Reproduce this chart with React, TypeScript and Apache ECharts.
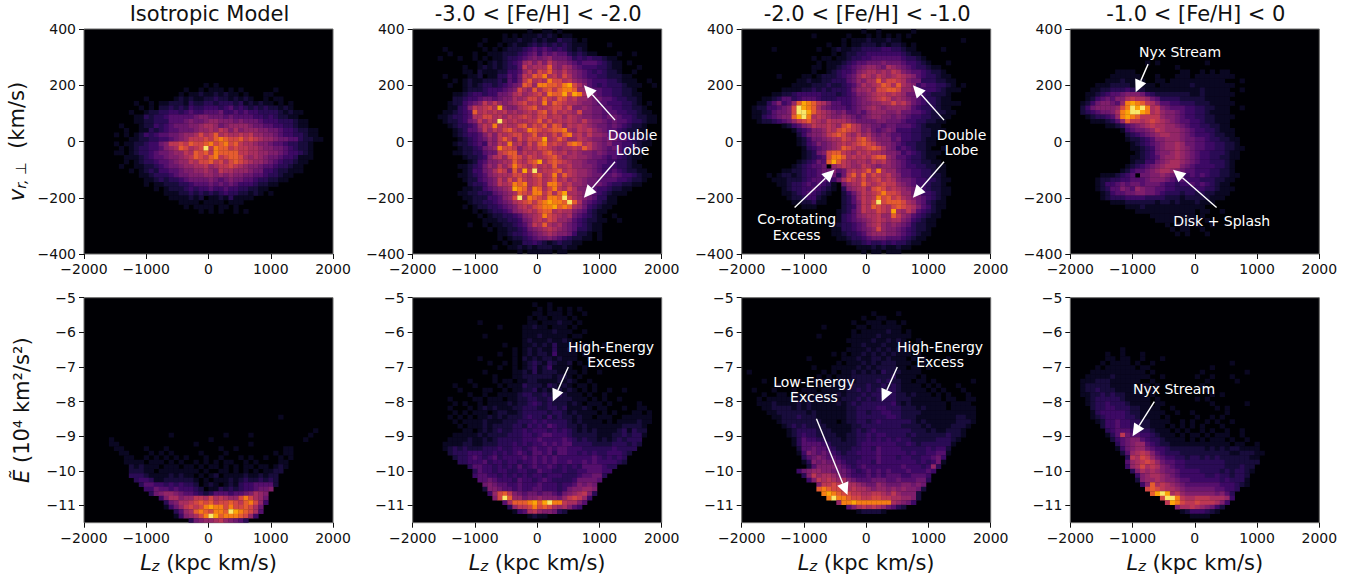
import React, { useEffect, useRef } from "react";
import * as echarts from "echarts";

const binCount = 50;
const xTicks = [-2000, -1000, 0, 1000, 2000];
const vTicks = [-400, -200, 0, 200, 400];
const eTicks = [-11, -10, -9, -8, -7, -6, -5];
const titles = ["Isotropic Model", "-3.0 < [Fe/H] < -2.0", "-2.0 < [Fe/H] < -1.0", "-1.0 < [Fe/H] < 0"];

const isoVelocityFirst = 12;
const isoVelocity = [
"0000000000 0000000000 0000101000 0000000000 0000000000",
"0000000000 0000000000 1001011101 0100000010 0000000000",
"0000000000 0000000001 0112112121 1010001100 0000000000",
"0000000000 0010000012 1211223221 2121001011 0000000000",
"0000000000 1001011222 1322332333 2312121101 0100000000",
"0000000000 0101022323 2433444345 3432323221 2100000000",
"0000000001 0012233443 4544555644 5454433332 1211000000",
"0000000000 1132334555 5567766656 5555443432 2110000000",
"0000000000 1122333555 6766788777 6766654443 3321100000",
"0000000100 0122434566 6778998678 8887665544 3321100000",
"0000000010 0113234556 6678898a97 9788877665 4432211000",
"0000001010 1243455667 889b9ac9a9 9a9a887765 4433211000",
"0000000001 1223344567 8aaabacdcb bcaba98876 6553221100",
"0000001011 2234467aab acbbcdbcdb ca99877655 4332210000",
"0000000101 233445789c b9abfadcca baa9987766 5432210000",
"0000001101 2334566788 a9cbcadccc caa9988776 5443210000",
"0000000011 1234556778 9acbacdabc cb98987665 4431110000",
"0000000010 1233455678 8a9bbcab9b cba9887654 3321100000",
"0000000100 1122345667 8899a89aab a987765543 3211000000",
"0000000001 0123244556 7788987a99 8887664432 2111000000",
"0000000000 0112333456 6777887878 7766554332 1100000000",
"0000000000 0011232334 5666676567 6655433221 1000000000",
"0000000000 0010112223 3455565656 5444322110 0000000000",
"0000000000 0000101222 3434454454 4332211000 0000000000",
"0000000000 0000001112 2323232343 3221210100 0000000000",
"0000000000 0000000111 1212011213 1111000000 0000000000",
"0000000000 0000000001 1110111101 1100000000 0000000000",
"0000000000 0000000000 1011110110 1000000000 0000000000",
"0000000000 0000000000 0001010100 1010000000 0000000000",
];

const poorVelocityFirst = 0;
const poorVelocity = [
"0000000000 0000000000 0001001101 0000000000 0000000000",
"0000000000 0000000010 1011121210 1100000000 0000000000",
"0000000000 0000100011 1211212113 2210100000 0000000000",
"0000000000 0001000101 2112323232 3211100001 0000000000",
"0000001000 0000101012 2234545434 3212100000 0000000000",
"0000000100 0010011122 2345646565 5323211000 0100100000",
"0000010001 0010101123 3456767866 6534343321 1000000000",
"0000000000 0001012123 4589797a87 7654555432 1101000000",
"0000000000 1001212123 35a8999c87 9865444332 1100010000",
"0000000000 1102111224 458a8bac98 a876543432 2100100000",
"0000001000 0112011335 46a9cbd9a8 b976544332 2211000000",
"0000000010 1211222325 46ac9a9dbb 9a87654443 3211100100",
"0000000100 1212332345 67cb8ddccb deb9754343 3321110010",
"0000000000 1222344456 7b98c9bcac ddc8865544 3322100000",
"0000000011 2344344667 9a89ab9dcc ebed986544 3322110000",
"0000000022 3445665677 989bb9ca9c b9a8876655 4332210000",
"0000000122 4567a8a878 9ab9a9d9cb a998776554 4433210100",
"0000000113 47a9ab9e87 79abc99abb 9b77876655 4433221000",
"0000001123 45c9a9a9a8 989a9bc9b9 a98b776655 5443321100",
"0000011233 4599bb9a8a 9aba9bb9aa 8a98776656 6544322110",
"0000001223 467a8a9fa9 a99aac9b9a 9a98a87765 6554332110",
"0000000123 3458a9d9a9 9bc9bac9cb 8a9a987665 6543221000",
"0000000012 3557a8a9bc a9adcbabcc d98a9a8765 5432211000",
"0000000012 3445797a9a bb9ac9a9b9 cd9a8a8876 6543221100",
"0000000001 2345687aca 8b9bbbe9ac a88a987767 6554322100",
"0000000012 2345487a9d 9a8b9cdaba 9cdc9a8767 5544321100",
"0000000001 2234678dbb a79a9bba98 99a9ca8765 6543321000",
"0000000011 2233566abc c8a9a9bca9 a898776765 5532110000",
"0000000000 1223479a8b cb9ba9abca 8998876654 5432110000",
"0000000000 0124577899 ca9bce9bcb a988766554 4332100000",
"0000000001 1234687a8a dba9b9a9c9 9a88776544 4332110000",
"0000000000 1244679ba7 c9eaf9aabc 9a98876544 5432211000",
"0000000001 1234578999 bba9bc9ad9 ca98876655 6544321100",
"0000000000 1224567a8b 9ca9ab9ac9 a898766555 5443221000",
"0000000000 0233467a9a dcd9ab9ddb 9a88766654 3322110000",
"0000000000 1122456789 edc9dc9bda 9b97765443 2211000000",
"0000000001 1223335678 9cbaddac9c e998765432 1110000000",
"0000000000 1122244578 bf9dcbaddc fb98765331 1000000000",
"0000000000 0122334567 9abcacdedd cfc9654321 1000000000",
"0000000000 1012233456 79a9bcddec dc98643211 0000000000",
"0000000000 0010123345 789a9bcc9a 9976532110 0000000000",
"0000000000 0001012233 45789adba9 8965432100 1000000000",
"0000000000 0000111223 34679a9ba8 8754322110 0100000000",
"0000000000 0100101122 3457a9c989 7654321100 0000000000",
"0000000000 0000010112 2346789a98 7653321100 0000000000",
"0000000000 0000000112 3345678987 7642210100 0000000000",
"0000000000 0000000101 2234566765 4322110100 0000000000",
"0000000000 0000000010 1133432123 2211000000 0000000000",
"0000000000 0000001001 1212122211 2110000000 0000000000",
"0000000000 0000000000 0101111101 1000000000 0000000000",
];

const midVelocityFirst = 0;
const midVelocity = [
"0000000000 0000000000 0000100100 0000100000 0000000000",
"0000000000 0000100000 0100010101 0101000000 0000000000",
"0000000000 0000000000 1011121112 1100000000 0000100000",
"0000000000 0000000100 1011222121 2210100000 0000000000",
"0000001000 0000010012 1122333344 3321100000 1000000000",
"0000000000 0000000010 1223344444 4432110000 0000000000",
"0000000000 0000101101 1233445555 5543321000 0000000000",
"0000000000 0000010111 2345566676 6654432100 0100000000",
"0000000000 0000110112 3456788769 8765433211 0000000000",
"0000000000 0000100123 4457899898 a976554322 1000000000",
"0000000100 0011012223 4568a98a98 9a98754332 1100000000",
"0000000000 0112112233 3568799c9b ba97663332 2110000000",
"0000000000 1111222322 3457989acb 9c98745443 3210100000",
"0000000011 1122323233 3468898bbc cb88754443 2111000000",
"0000001122 3444443332 3457789aa9 a986654322 2100000000",
"0000112355 3455543334 4456789aba 8987654332 1100000000",
"0001135745 8cedca9755 4456778899 b9a8654332 1111000000",
"0012244567 bfedc97655 5456789878 8887543332 1100000000",
"0011235667 bffeca9876 7556578887 7866554322 2110000000",
"0011345677 cefd9a9877 8765678877 6765443322 1100000000",
"0001223456 8abca98a99 9876666776 6654433221 1000000000",
"0000000012 4578a99a98 bca9776656 6555432111 0000000000",
"0000000000 1345778a9b cba9786567 6444332211 1000000000",
"0000000000 0246778abc b98a897676 5544332211 0000000000",
"0000000000 0124667899 ba9bca8777 5644332110 0000000000",
"0000000000 0124576789 a9abcba877 6543322110 0000000000",
"0000000000 0013456789 cba9abcb97 6454322100 1000000000",
"0000000000 0012367bcc a98a9a9987 7645432111 0000000000",
"0000000000 0012345bdd c9a9a9bcc8 7554332110 0000000000",
"0000000000 0123465cec a98998a9a8 7654332211 0000000000",
"0000000000 1234556089 a988a98788 7654433221 1000000000",
"0000000011 2234456675 69a9ac9d98 8655443321 1000000000",
"0000010122 1234455663 6ac9c9ba9a 8755443322 1000000000",
"0000001112 2234555446 9ba9b9ab9a 9766544332 1100000000",
"0000000112 3345454310 6899ca9aba a876544322 1000000000",
"0000000012 3344543210 3789a8bcb9 a987654322 1100000000",
"0000000011 2345432100 2468a9abdb ba88654432 1100000000",
"0000000001 2234421000 2358a9adbc ab98765432 1000000000",
"0000000000 1122311000 2357a9bfbc ccb9865321 1000000000",
"0000000000 0011100000 2347a9cba9 bcba975421 1000000000",
"0000000000 0000000001 2357a99ba9 e98a854321 0000000000",
"0000000000 0000000001 3457899a88 ca87543211 0000000000",
"0000000000 0000000001 3456789a98 9976432110 0000000000",
"0000000000 0000000012 3345689a87 8765322110 0000000000",
"0000000000 0000000011 3345678b87 7654322100 0000000000",
"0000000000 0000000011 2334578887 7654321100 0000000000",
"0000000000 0000000001 1233456665 5543211000 0000000000",
"0000000000 0000000000 0122343343 4332110000 0000000000",
"0000000000 0000000000 0001112121 1211000000 0000000000",
"0000000000 0000000000 0000101101 1100000000 0000000000",
];

const richVelocityFirst = 7;
const richVelocity = [
"0000000000 0000010100 0000000100 0000000000 0000000000",
"0000000000 0000000000 0100000000 0000000000 0000000000",
"0000000001 1110000000 0011001010 1100000000 0000000000",
"0000000011 1111000100 0111011111 1110000000 0000000000",
"0000000111 2111100110 1111111111 1000100000 0000000000",
"0000011122 2211111011 1111211111 1110000000 0000000000",
"0000112233 3432211111 1111112111 1100100000 0000000000",
"0001123455 6777643222 2222112111 1110000000 0000000000",
"0001245657 79a9986533 3322222111 1100000000 0000000000",
"0012467765 8dedca9755 4433322211 1110000000 0000000000",
"0024677778 bdfefd9a76 5554433221 1100100000 0000000000",
"0023456679 deffed9a87 7654433211 1100000000 0000000000",
"0001233458 dedcaaaa87 7654433221 1110000000 0000000000",
"0000111235 8caa9aba98 7655443221 1100000000 0000000000",
"0000000112 356789a998 8765443322 1100000000 0000000000",
"0000000000 1456678a98 8876544332 1110000000 0000000000",
"0000000000 0234567899 8876544432 2110000000 0000000000",
"0000000000 0122345778 8876655433 2211000000 0000000000",
"0000000000 0012345678 8986655443 3221000000 0000000000",
"0000000000 0011234678 8987655443 3221100000 0000000000",
"0000000000 0001234677 8987654433 3211000000 0000000000",
"0000000000 0011234578 8987654433 2211000000 0000000000",
"0000000000 0012244678 9987654433 3210000000 0000000000",
"0000000000 0123456789 9976544443 3210000000 0000000000",
"0000000000 1245567899 8765544433 2210000000 0000000000",
"0000001112 3450667787 6544545433 2211000000 0000000000",
"0000012233 4455567776 5454443332 2110000000 0000000000",
"0000012445 6566566654 4344545432 1100000000 0000000000",
"0000012355 7658766554 4333344332 1110000000 0000000000",
"0000001245 5667766543 3323323221 1100000000 0000000000",
"0000001233 3444433332 2212222211 1000000000 0000000000",
"0000000011 1222222122 1211121110 0000000000 0000000000",
"0000000000 0111211111 1111111000 0000000000 0000000000",
"0000000000 0001111111 1111101100 1000000000 0000000000",
"0000000000 0000001111 1111101000 0000000000 0000000000",
"0000000000 0000000111 1011110100 0000000000 0000000000",
"0000000000 0000000001 0111010010 0000000000 0000000000",
"0000000000 0000000000 1011001000 0000000000 0000000000",
"0000000000 0000000000 0101000100 0000000000 0000000000",
];

const isoEnergyFirst = 26;
const isoEnergy = [
"0000000000 0000000000 0000000000 0000000001 0000000000",
"",
"",
"0000000000 0000000000 0000000000 0000000000 0000001000",
"0000000000 0000000100 0000000010 0001000000 0000010000",
"0000010000 0000000000 0000010000 0000000000 0000100000",
"0000011000 0000000000 0010000000 0001000000 0000000000",
"0000001100 0010001000 0000000100 1000000000 1100000000",
"0000000110 0001010100 0001000010 0000000010 1100000000",
"0000000011 0010101010 1000100100 0101001001 0100000000",
"0000000011 1101110101 0010101011 0010100001 1000000000",
"0000000002 1211101110 1101011010 1011011012 1000000000",
"0000000002 2211011111 1110100110 1010101122 0000000000",
"0000000003 3321111212 1101012011 1121121220 0000000000",
"0000000000 3443112222 2210101112 1232232320 0000000000",
"0000000000 0355443434 3320121012 1344555520 0000000000",
"0000000000 0044655454 4432011323 2344566700 0000000000",
"0000000000 0003678876 5543235554 5567987000 0000000000",
"0000000000 0000047997 88aa9b9a98 8bdb986000 0000000000",
"0000000000 0000003679 9abcbcabbc bacdb84000 0000000000",
"0000000000 0000001468 ababdeddbd bbcb960000 0000000000",
"0000000000 0000000035 89cdcbddcf edcb950000 0000000000",
"0000000000 0000000014 789bdfecdd dcb8400000 0000000000",
"0000000000 0000000000 0367889a87 6530000000 0000000000",
];

const poorEnergyFirst = 1;
const poorEnergy = [
"0000000000 0000000000 0000100100 0000000000 0000000000",
"0000000000 0000000000 0000010101 0101000000 0000000000",
"0000000000 0000000000 0000110111 0100100000 0000000000",
"0000000000 0000000000 0001011011 1010000000 0000000000",
"0000000000 0001000000 0001101112 1101000000 0000000000",
"0000000000 0000000100 0011211011 1010000000 0000000000",
"0000000000 0000000000 0011111121 1100100000 0000000000",
"0000000000 0000100000 0011121111 1011000000 0000000000",
"0000000000 0000000000 0012111211 2100000000 0000000000",
"0000000000 0000000010 0011212131 1110100010 0000000000",
"0000000000 0000000000 1012121131 1211000000 0000000000",
"0000000000 0000000100 1012122141 1110100000 0000000000",
"0000000000 0001000000 1021212212 1110010000 0000000000",
"0000000000 0000010010 1012321321 1201000000 0000000000",
"0000000000 0000000100 1012312411 1100100000 0000000000",
"0000000000 0000100000 1121312221 1110100100 0000000000",
"0000000000 0000001000 1122222212 2101000000 0000000000",
"0000000000 0100001011 0112211112 1210010000 0000000000",
"0000000010 0010000101 1132221321 2101101000 0000000000",
"0000000001 0000110010 1122312122 1210101001 0010000000",
"0000000000 0100100111 1233223213 2111010010 0000000000",
"0000000100 0011011101 1223322322 2211101010 0100000000",
"0000000010 1001011112 1223432322 2121011101 0000010000",
"0000000100 0101212111 2233322332 3111210110 0010011000",
"0000000010 1011101221 1233333233 2121111010 1000110100",
"0000000101 0101121212 2234332423 2212110111 0011111100",
"0000000010 1111211122 2333434333 3212111101 0111121100",
"0000000001 0111212222 3324343543 3221211111 1122221000",
"0000000000 1101212322 3343444343 4321212111 1231322000",
"0000000011 1112122223 3344345544 4322222111 2232331000",
"0000000111 1211212333 3344454444 5432322121 2323330000",
"0000001111 2211222333 4343445454 5533332222 3332320000",
"0000001232 3222333433 4434544545 5444333333 4333300000",
"0000000233 3444334343 4543554535 5443434334 4432000000",
"0000000023 3454345344 4454545454 4444445434 3430000000",
"0000000003 3444534434 4344545454 4544545444 4320000000",
"0000000000 0355443434 3534544543 4343555543 3000000000",
"0000000000 0035443443 3443354433 4334455544 0000000000",
"0000000000 0045544343 4343443444 3334556630 0000000000",
"0000000000 0005565444 3544345433 3346666500 0000000000",
"0000000000 0000676554 4544454443 4457676000 0000000000",
"0000000000 0000277655 4544554443 4677887000 0000000000",
"0000000000 0000048bca 7656656654 6789a73000 0000000000",
"0000000000 0000007bfc 8867787776 8aba840000 0000000000",
"0000000000 0000000059 cccdecefdd a997500000 0000000000",
"0000000000 0000000003 8aabdbcb98 9754000000 0000000000",
"0000000000 0000000000 1459a87763 2000000000 0000000000",
"0000000000 0000000000 0001211000 0000000000 0000000000",
];

const midEnergyFirst = 3;
const midEnergy = [
"0000000000 0000000000 0000001000 0100000000 0000000000",
"0000000000 0000000000 0000100110 0000000000 0000000000",
"0000000000 0000000000 0010011101 1010000000 0000000000",
"0000000000 0000001000 0001101111 1100000000 0000000000",
"0000000000 0000000000 0010111112 1101000000 0000000000",
"0000000000 0000010000 0011111211 1111000000 0000000000",
"0000000000 0000000000 0111112112 1210010000 0000000000",
"0000000000 0000000000 0011211121 1111000000 0000000000",
"0000000000 0000000000 0111121212 1211000000 0000000000",
"0000000000 0000000010 1011212121 2111010000 0000000000",
"0000000000 0001000000 1112112212 1110101000 0100000000",
"0000000000 0000000001 0111212122 2111001000 0000000000",
"0000000000 0000100011 1112121222 2110110100 0000000000",
"0100000000 0000001010 1121212132 2211110000 0000000000",
"0000000000 0000010101 1122222222 3111101000 0000000000",
"0000100000 0100101111 1212222323 2211011010 0000001000",
"0000000100 0000010111 1122232232 3211110101 0001000000",
"0010001000 1011101111 1223232323 3211111010 1000100000",
"0000100110 1101111112 1222323333 3221211101 0100010000",
"0001011111 1111121111 2223232333 3222111111 0110011000",
"0001112111 1212111112 1232333333 4212111111 1011110000",
"0000112222 1212111111 1223333443 3322212111 1011111000",
"0000011222 2221211111 1223323344 3322221111 1111111000",
"0000001122 2322211111 1223333334 4322211111 1112211000",
"0000000122 2222221110 1223323433 3333212111 1112221000",
"0000000012 3232222111 1122333333 3322221211 1122210000",
"0000000001 2333322211 1123234333 3333222121 1222100000",
"0000000001 2343322221 1223343443 3332322222 2322100000",
"0000000000 1354433222 1223343434 3433222223 3321000000",
"0000000000 1355554322 2223444444 4334323333 3310000000",
"0000000000 0255655432 2233443544 4433333434 4200000000",
"0000000000 0147656543 2334444544 4443433445 5100000000",
"0000000000 0035676554 3333444544 4344334456 4000000000",
"0000000000 0013767665 4334443544 4444434346 1000000000",
"0000000000 0002577776 5434544444 4454443483 0000000000",
"0000000000 0467887766 6543454545 4445444540 0000000000",
"0000000000 0037a89987 6544454545 5544555400 0000000000",
"0000000000 00047a9a98 9765556665 5655566300 0000000000",
"0000000000 000007aaba a998766876 6677676000 0000000000",
"0000000000 00000cdcbb a9a9987887 8787762000 0000000000",
"0000000000 000000dedc bbaa99aa98 a877720000 0000000000",
"0000000000 0000000dfd dcbbaabbaa 9988720000 0000000000",
"0000000000 0000000008 ddeddddddd 9876400000 0000000000",
"0000000000 0000000000 0579a9a986 5320000000 0000000000",
"0000000000 0000000000 0001222210 0000000000 0000000000",
];

const richEnergyFirst = 11;
const richEnergy = [
"0000000000 1000000000 0000000000 0000000000 0000000000",
"0000000100 1000100000 0000000000 0000000000 0000000000",
"0000000110 1100100010 0000000000 0000000000 0000000000",
"0000001011 1101001000 0000000000 0010000000 0000000000",
"0000010111 1110110000 0000000010 0000000000 0000000000",
"0000111111 1111101000 0000001000 0000010000 0000000000",
"0001111121 1111110010 0000010010 0010000000 0000000000",
"0011122211 1111001000 0000000100 0001000000 0000000000",
"0012222211 1110110100 0000001000 0000000000 0000000000",
"0012232221 1111011000 0000000100 0000000000 0000000000",
"0011223232 2111101000 0000000010 1000000000 0000000000",
"0001233333 2111110100 0000010100 0000000000 0000000000",
"0001233433 3211110110 0000000010 0000010000 0000000000",
"0000233443 3322111100 1000000001 0100000000 0000000000",
"0000134444 4322111110 0100100000 0100000000 0000000000",
"0000123444 4332111101 0000010010 1000000000 0000000000",
"0000012445 4433221111 0010100101 0010000000 0000000000",
"0000002445 4433221110 1010101000 1000000000 0000000000",
"0000000345 5544332111 0101001010 0100100000 0000000000",
"0000000135 a655443211 1010110101 1100100000 0000000000",
"0000000024 5677543321 1110101011 1010010000 0000000000",
"0000000003 5678854322 1111111111 1101100100 0000000000",
"0000000001 4678865443 2222222121 2122111100 0000000000",
"0000000000 2589a97543 3322222222 2211222110 0000000000",
"0000000000 03a9ba8654 4332332323 2222221100 0000000000",
"0000000000 0589aba865 5443333333 3222222200 0000000000",
"0000000000 0489b9a976 5443333333 3222322000 0000000000",
"0000000000 0037989876 6544443333 2323321000 0000000000",
"0000000000 0004789987 6544444334 3323320000 0000000000",
"0000000000 0002788987 7655444444 3433310000 0000000000",
"0000000000 000047c9a9 8765555555 4443210000 0000000000",
"0000000000 00000bcba9 9876666665 5443000000 0000000000",
"0000000000 000000cefe 9a87777776 7530000000 0000000000",
"0000000000 00000000bf fda99aaa99 9840000000 0000000000",
"0000000000 000000000a edbaabaaa9 7400000000 0000000000",
"0000000000 0000000000 0799a98764 2000000000 0000000000",
"0000000000 0000000000 0012444321 0000000000 0000000000",
"0000000000 0000000000 0000111100 0000000000 0000000000",
];

const INFERNO = ["#000004","#0a0722","#180c3c","#2a0b55","#3d0965","#550f6d","#6b176e","#7f1e6c","#932667","#a82e5f","#bc3754","#d24644","#e55c30","#f57d15","#fca50a","#f9e76a"];
const BG = INFERNO[0];
const FONT = "DejaVu Sans";
const INK = "#111";

function cellsFrom(rows: string[], first: number, yMin: number, yMax: number) {
  const out: number[][] = [];
  const dx = 4000 / binCount;
  const dy = (yMax - yMin) / binCount;
  rows.forEach((raw, r) => {
    const row = raw.replace(/ /g, "");
    for (let c = 0; c < Math.min(row.length, binCount); c++) {
      const lvl = parseInt(row[c], 16);
      if (lvl > 0) out.push([-2000 + dx * (c + 0.5), yMax - dy * (first + r + 0.5), lvl]);
    }
  });
  return out;
}

const panelCells = [
  cellsFrom(isoVelocity, isoVelocityFirst, -400, 400),
  cellsFrom(poorVelocity, poorVelocityFirst, -400, 400),
  cellsFrom(midVelocity, midVelocityFirst, -400, 400),
  cellsFrom(richVelocity, richVelocityFirst, -400, 400),
  cellsFrom(isoEnergy, isoEnergyFirst, -11.5, -5),
  cellsFrom(poorEnergy, poorEnergyFirst, -11.5, -5),
  cellsFrom(midEnergy, midEnergyFirst, -11.5, -5),
  cellsFrom(richEnergy, richEnergyFirst, -11.5, -5),
];

type Arrow = [number, number, number, number];
type Note = [string, number, number];
const doubleLobeArrows: Arrow[] = [[1250, 76, 750, 200], [1250, -72, 750, -200]];
const doubleLobeNotes: Note[] = [["Double", 1530, 22], ["Lobe", 1530, -31]];
const highEnergyArrows: Arrow[] = [[500, -7, 250, -8]];
const highEnergyNotes: Note[] = [["High-Energy", 1186, -6.43], ["Excess", 1186, -6.87]];
const panelArrows: Arrow[][] = [
  [],
  doubleLobeArrows,
  [...doubleLobeArrows, [-1150, -235, -510, -100]],
  [[-750, 275, -950, 175], [350, -235, -350, -100]],
  [],
  highEnergyArrows,
  [...highEnergyArrows, [-800, -8.5, -300, -10.7]],
  [[-650, -8, -1000, -9]],
];
const panelNotes: Note[][] = [
  [],
  doubleLobeNotes,
  [...doubleLobeNotes, ["Co-rotating", -1117, -276], ["Excess", -1117, -333]],
  [["Nyx Stream", -238, 318], ["Disk + Splash", 432, -284]],
  [],
  highEnergyNotes,
  [...highEnergyNotes, ["Low-Energy", -839, -7.44], ["Excess", -839, -7.87]],
  [["Nyx Stream", -334, -7.63]],
];

const lefts = [84, 412.7, 741.7, 1070.3];
const tops = [29, 297.7];
const plotW = 249;
const plotH = 225;
const minus = (v: number) => String(v).replace("-", "\u2212");

function buildOption() {
  const grid: any[] = [], xAxis: any[] = [], yAxis: any[] = [], series: any[] = [];
  const big = 21;
  const richBase = {
    i: { fontFamily: FONT, fontStyle: "italic", fontSize: big, color: INK },
    s: { fontFamily: FONT, fontStyle: "italic", fontSize: 14.5, color: INK, verticalAlign: "bottom", padding: [7, 0, 0, 0] },
    t: { fontFamily: FONT, fontSize: big, color: INK },
  };
  for (let i = 0; i < 8; i++) {
    const col = i % 4;
    const bottom = i >= 4;
    const yTicks = bottom ? eTicks : vTicks;
    grid.push({ left: lefts[col], top: tops[bottom ? 1 : 0], width: plotW, height: plotH, show: true, backgroundColor: BG, borderColor: "#6a6a6a", borderWidth: 1, z: 0 });
    xAxis.push({
      type: "value", gridIndex: i, min: -2000, max: 2000,
      splitLine: { show: false }, axisLine: { show: false, onZero: false },
      axisTick: { show: true, length: 5, lineStyle: { color: INK, width: 1 }, customValues: xTicks },
      axisLabel: { color: INK, fontFamily: FONT, fontSize: 14, margin: 8, formatter: minus, customValues: xTicks },
      ...(bottom ? { name: "{i|L}{s|z}{t| (kpc km/s)}", nameLocation: "middle", nameGap: 29, nameTextStyle: { rich: richBase } } : {}),
    });
    const yName = col === 0 ? (bottom
      ? { name: "{i|\u1EBC}{t| (10\u2074 km\u00B2/s\u00B2)}", nameLocation: "middle", nameGap: 52, nameTextStyle: { rich: richBase } }
      : { name: "{i|v}{s|r, \u22A5}{t|  (km/s)}", nameLocation: "middle", nameGap: 56, nameTextStyle: { rich: richBase } }) : {};
    yAxis.push({
      type: "value", gridIndex: i,
      min: bottom ? -11.5 : -400, max: bottom ? -5 : 400,
      splitLine: { show: false }, axisLine: { show: false, onZero: false },
      axisTick: { show: true, length: 5, lineStyle: { color: INK, width: 1 }, customValues: yTicks },
      axisLabel: { color: INK, fontFamily: FONT, fontSize: 14, margin: 8, formatter: minus, customValues: yTicks },
      ...yName,
    });
    series.push({
      type: "custom", xAxisIndex: i, yAxisIndex: i, silent: true, z: 2,
      data: panelCells[i], clip: true,
      encode: { x: 0, y: 1 },
      renderItem: (_p: any, api: any) => {
        const c = api.coord([api.value(0), api.value(1)]);
        const s = api.size([80, bottom ? 0.13 : 16]);
        return {
          type: "rect",
          shape: { x: c[0] - s[0] / 2, y: c[1] - s[1] / 2, width: s[0] + 0.3, height: s[1] + 0.3 },
          style: { fill: INFERNO[api.value(2)] },
        };
      },
    });
    if (panelArrows[i].length) series.push({
      type: "custom", xAxisIndex: i, yAxisIndex: i, silent: true, z: 5,
      data: panelArrows[i], encode: { x: [0, 2], y: [1, 3] },
      renderItem: (_p: any, api: any) => {
        const a = api.coord([api.value(0), api.value(1)]);
        const b = api.coord([api.value(2), api.value(3)]);
        const L = Math.hypot(b[0] - a[0], b[1] - a[1]);
        const ux = (b[0] - a[0]) / L, uy = (b[1] - a[1]) / L;
        const hl = 12.5, hw = 6;
        const bx = b[0] - ux * hl, by = b[1] - uy * hl;
        return {
          type: "group",
          children: [
            { type: "line", shape: { x1: a[0], y1: a[1], x2: bx, y2: by }, style: { stroke: "#fff", lineWidth: 1.4 } },
            { type: "polygon", shape: { points: [[b[0], b[1]], [bx - uy * hw, by + ux * hw], [bx + uy * hw, by - ux * hw]] }, style: { fill: "#fff" } },
          ],
        };
      },
    });
    if (panelNotes[i].length) series.push({
      type: "custom", xAxisIndex: i, yAxisIndex: i, silent: true, z: 6,
      data: panelNotes[i].map((n) => [n[1], n[2], n[0]]), encode: { x: 0, y: 1 },
      dimensions: ["x", "y", { name: "t", type: "ordinal" }],
      renderItem: (p: any, api: any) => {
        const c = api.coord([api.value(0), api.value(1)]);
        return {
          type: "text", x: c[0], y: c[1],
          style: { text: panelNotes[i][p.dataIndex][0], fill: "#fff", font: `14px "${FONT}"`, textAlign: "center", textVerticalAlign: "middle" },
        };
      },
    });
  }
  const title = titles.map((t, c) => ({
    text: t, left: lefts[c] + plotW / 2 - 4, top: -2, textAlign: "center",
    textStyle: { fontFamily: FONT, fontSize: 21, fontWeight: "normal", color: INK },
  }));
  return { animation: false, backgroundColor: "#fff", title, grid, xAxis, yAxis, series };
}

export default function App() {
  const ref = useRef<HTMLDivElement>(null);
  useEffect(() => {
    document.body.style.margin = "0";
    const chart = echarts.init(ref.current!, undefined, { renderer: "svg" });
    chart.setOption(buildOption() as any);
    return () => chart.dispose();
  }, []);
  return <div ref={ref} style={{ width: 1358, height: 577 }} />;
}
